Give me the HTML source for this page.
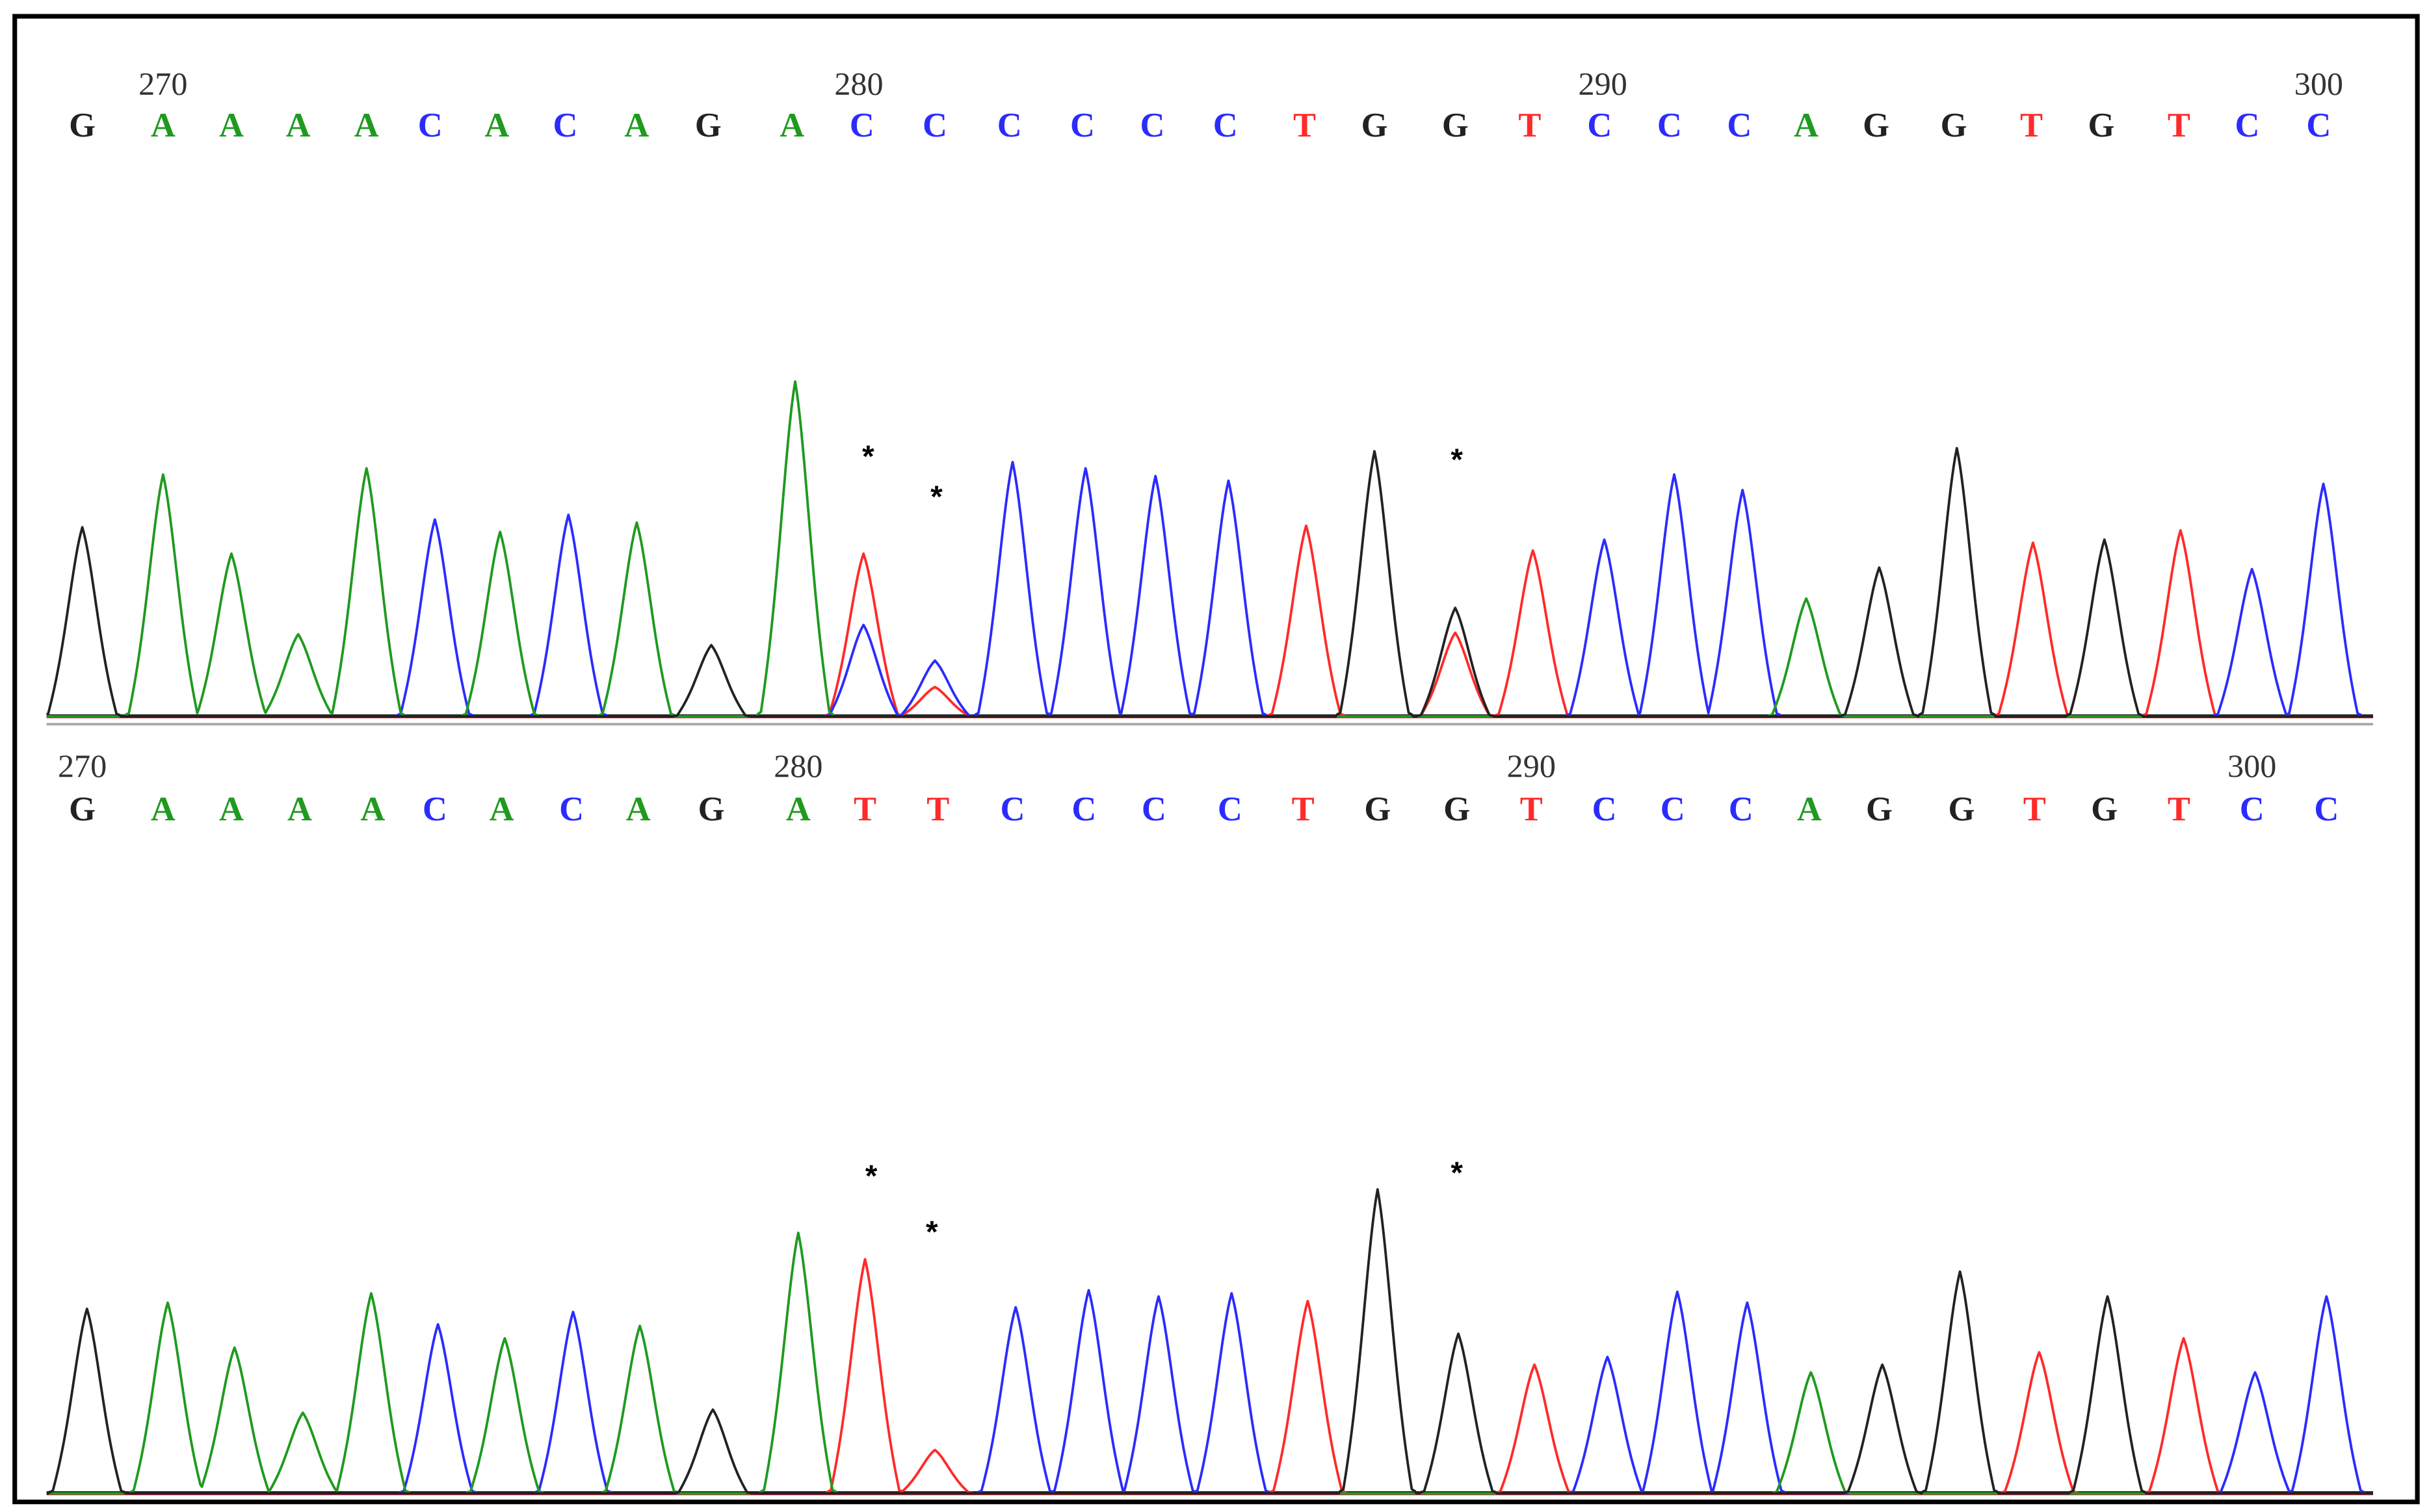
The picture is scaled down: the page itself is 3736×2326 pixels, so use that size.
<!DOCTYPE html>
<html><head><meta charset="utf-8"><style>
html,body{margin:0;padding:0;background:#fff;width:3736px;height:2326px;overflow:hidden}
svg{display:block}
</style></head><body>
<svg id="chart" width="3736" height="2326" viewBox="0 0 1564 975" preserveAspectRatio="none" xmlns="http://www.w3.org/2000/svg">
<rect x="9.5" y="10.5" width="1547" height="958" fill="#fff" stroke="#000" stroke-width="3"/>
<g id="top"></g>
<line x1="30" y1="467" x2="1528" y2="467" stroke="#aaa" stroke-width="1.6"/>
<g id="bot"></g>
</svg>
<script>
// Top panel (reference sequence)
const topBases = "GAAAACACAGACCCCCCTGGTCCCAGGTGTCC".split("");
const topBaseX = [53,105,149,192,236,277,320,364,410,456,510,555,602,650,697,742,789,840,885,937,985,1030,1075,1120,1163,1208,1258,1308,1353,1403,1447,1493];
const topTickLabels = ["270","280","290","300"];
const topTickX = [105,553,1032,1493];
// peaks: [position, channel, signal]
const topPeakPos = [53,105,149,192,236,280,322,366,410,458,512,556,556,602,602,652,699,744,791,841,885,937,937,987,1033,1078,1122,1163,1210,1260,1309,1355,1404,1450,1496];
const topPeakCh  = ["G","A","A","A","A","C","A","C","A","G","A","T","C","C","T","C","C","C","C","T","G","G","T","T","C","C","C","A","G","G","T","G","T","C","C"];
const topPeakVal = [122,156,105,53,160,127,119,130,125,46,216,105,59,36,19,164,160,155,152,123,171,70,54,107,114,156,146,76,96,173,112,114,120,95,150];
const topStars = [[559,292],[603,318],[938,294]];

// Bottom panel (sample sequence)
const botBases = "GAAAACACAGATTCCCCTGGTCCCAGGTGTCC".split("");
const botBaseX = [53,105,149,193,240,280,323,368,411,458,514,557,604,652,698,743,792,839,887,938,986,1033,1077,1121,1165,1210,1263,1310,1355,1403,1450,1498];
const botTickLabels = ["270","280","290","300"];
const botTickX = [53,514,986,1450];
const botPeakPos = [56,108,151,195,239,282,325,369,412,459,514,557,602,654,701,746,793,842,887,939,988,1035,1080,1125,1166,1212,1262,1313,1357,1406,1452,1498];
const botPeakCh  = ["G","A","A","A","A","C","A","C","A","G","A","T","T","C","C","C","C","T","G","G","T","C","C","C","A","G","G","T","G","T","C","C"];
const botPeakVal = [119,123,94,52,129,109,100,117,108,54,168,151,28,120,131,127,129,124,196,103,83,88,130,123,78,83,143,91,127,100,78,127];
const botStars = [[561,756],[600,792],[938,754]];

const colors = {A:"#1f9a1f",C:"#2b2bff",G:"#222",T:"#ff2a2a"};
const NS = "http://www.w3.org/2000/svg";
const x0 = 30, x1 = 1528, sigma = 8.5;

function drawPanel(g, bases, baseX, tickLabels, tickX, pos, ch, val, stars, numY, letY, baseY) {
  for (let i = 0; i < tickLabels.length; i++) {
    const t = document.createElementNS(NS, "text");
    
    
    t.setAttribute("x", tickX[i]); t.setAttribute("y", numY);
    t.setAttribute("text-anchor", "middle");
    t.setAttribute("font-family", "Liberation Serif, serif");
    t.setAttribute("font-size", "21"); t.setAttribute("fill", "#333");
    t.textContent = tickLabels[i]; g.appendChild(t);
  }
  for (let i = 0; i < bases.length; i++) {
    const t = document.createElementNS(NS, "text");
    
    
    t.setAttribute("x", baseX[i]); t.setAttribute("y", letY);
    t.setAttribute("text-anchor", "middle");
    t.setAttribute("font-family", "Liberation Serif, serif");
    t.setAttribute("font-weight", "bold");
    t.setAttribute("font-size", "22"); t.setAttribute("fill", colors[bases[i]]);
    t.textContent = bases[i]; g.appendChild(t);
  }
  ["#ff2a2a","#2b2bff","#222"].forEach((c, k) => {
    const l = document.createElementNS(NS, "line");
    
    
    l.setAttribute("x1", x0); l.setAttribute("x2", x1);
    l.setAttribute("y1", baseY + 0.5 - k * 0.6); l.setAttribute("y2", baseY + 0.5 - k * 0.6);
    l.setAttribute("stroke", c); l.setAttribute("stroke-width", "1.4");
    g.appendChild(l);
  });
  ["T","C","A","G"].forEach(c => {
    let d = "";
    for (let x = x0; x <= x1; x += 1) {
      let s = 0;
      for (let i = 0; i < pos.length; i++) {
        if (ch[i] !== c) continue;
        const dx = Math.abs(x - pos[i]);
        if (dx > 24) continue;
        const gss = Math.exp(-dx * dx / (2 * sigma * sigma));
        const tri = Math.max(0, 1 - dx / 22);
        s = Math.max(s, val[i] * (0.4 * gss + 0.6 * tri));
      }
      d += (d ? "L" : "M") + x + "," + (baseY - s).toFixed(1);
    }
    const p = document.createElementNS(NS, "path");
    
    
    p.setAttribute("d", d); p.setAttribute("fill", "none");
    p.setAttribute("stroke", colors[c]); p.setAttribute("stroke-width", "1.6");
    p.setAttribute("stroke-linejoin", "round");
    g.appendChild(p);
  });
  stars.forEach(s => {
    const t = document.createElementNS(NS, "text");
    
    
    t.setAttribute("x", s[0]); t.setAttribute("y", s[1] + 9);
    t.setAttribute("text-anchor", "middle");
    t.setAttribute("font-family", "Liberation Sans, sans-serif");
    t.setAttribute("font-weight", "bold");
    t.setAttribute("font-size", "20"); t.setAttribute("fill", "#000");
    t.textContent = "*"; g.appendChild(t);
  });
}
drawPanel(document.getElementById("top"), topBases, topBaseX, topTickLabels, topTickX, topPeakPos, topPeakCh, topPeakVal, topStars, 61, 88, 462);
drawPanel(document.getElementById("bot"), botBases, botBaseX, botTickLabels, botTickX, botPeakPos, botPeakCh, botPeakVal, botStars, 501, 529, 963);
</script>
</body></html>
